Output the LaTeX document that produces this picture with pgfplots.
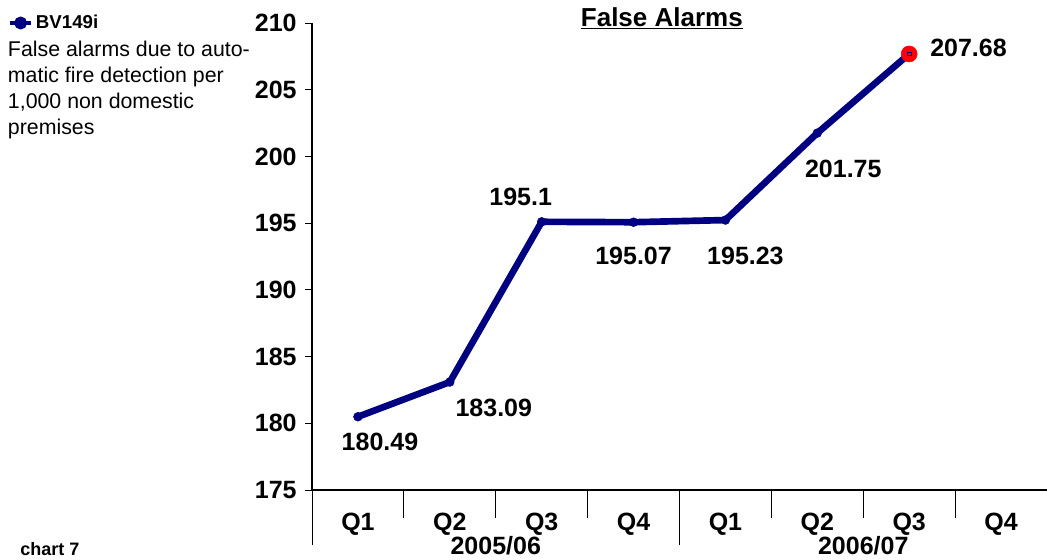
\documentclass[border=0pt]{standalone}
\usepackage{fontspec}
\setmainfont{Liberation Sans}
\usepackage{pgfplots}
\pgfplotsset{compat=1.18}
\usepackage{pgfplotstable}
\definecolor{navy}{RGB}{0,0,128}
\pgfplotstableread{
x y dx dy
0 180.49 16.5 -18.75
1 183.09 33 -19.5
2 195.1 -15.75 18.75
3 195.07 0 -25.5
4 195.23 15 -27
5 201.75 19.5 -27
6 207.68 44.5 4.5
}\datatable
\newcommand{\bigbf}{\fontsize{18.75}{21}\selectfont\bfseries}
\begin{document}
\begin{tikzpicture}
\useasboundingbox (-234pt,-52.5pt) rectangle (551.25pt,367.5pt);
\begin{axis}[
  at={(0,0)}, anchor=south west,
  scale only axis, width=551.25pt, height=350.25pt,
  xmin=-0.5, xmax=7.5, ymin=175, ymax=210,
  axis lines*=left,
  axis line style={line width=0.8pt},
  ytick={175,180,...,210},
  tick align=outside,
  major tick length=5pt,
  ytick style={line width=0.6pt, black},
  xtick={0,...,7},
  xticklabels={Q1,Q2,Q3,Q4,Q1,Q2,Q3,Q4},
  xtick style={draw=none},
  ticklabel style={font=\bigbf},
  yticklabel style={xshift=-3pt},
  xticklabel style={anchor=center, yshift=-21pt},
  /pgf/number format/assume math mode=true,
  clip=false,
  legend style={at={(rel axis cs:-0.414,1.0)}, anchor=west, draw=none, fill=none, inner sep=0pt,
    font=\fontsize{14}{16}\selectfont\bfseries, legend cell align=left},
  legend image code/.code={\draw[navy, line width=3pt] (0pt,0pt) -- (16pt,0pt); \fill[navy] (8pt,0pt) circle (2.2pt);},
]
\addplot[navy, line width=5pt, mark=*, mark size=3.3pt, mark options={line width=0.4pt},
  point meta=explicit symbolic,
  visualization depends on={\thisrow{dx}\as\dx},
  visualization depends on={\thisrow{dy}\as\dy},
  nodes near coords,
  nodes near coords style={anchor=center, xshift=\dx pt, yshift=\dy pt, font=\bigbf, text=black}]
  table[x=x, y=y, meta=y] {\datatable};
\addlegendentry{BV149i}
\addplot[forget plot, only marks, mark=*, red, mark size=6pt] coordinates {(6,207.68)};
\addplot[forget plot, only marks, mark=square, navy, mark size=1.3pt, line width=0.6pt] coordinates {(6,207.68)};
\pgfplotsinvokeforeach{0.5,1.5,2.5,4.5,5.5,6.5}{\draw[line width=0.6pt] (axis cs:#1,175) -- ([yshift=-21pt]axis cs:#1,175);}
\pgfplotsinvokeforeach{-0.5,3.5}{\draw[line width=0.6pt] (axis cs:#1,175) -- ([yshift=-41pt]axis cs:#1,175);}
\node[font=\bigbf] at (axis cs:1.5,175) [yshift=-42pt] {2005/06};
\node[font=\bigbf] at (axis cs:5.5,175) [yshift=-42pt] {2006/07};
\node[font=\fontsize{19.5}{22}\selectfont\bfseries] at (rel axis cs:0.476,1.01) {\underline{False Alarms}};
\node[anchor=north west, align=left, inner sep=0pt, font=\fontsize{16}{19.5}\selectfont] at (rel axis cs:-0.414,0.962) {False alarms due to auto-\\matic fire detection per\\1,000 non domestic\\premises};
\node[anchor=west, inner sep=0pt, font=\fontsize{13.5}{15}\selectfont\bfseries] at (rel axis cs:-0.397,-0.127) {chart 7};
\end{axis}
\end{tikzpicture}
\end{document}
